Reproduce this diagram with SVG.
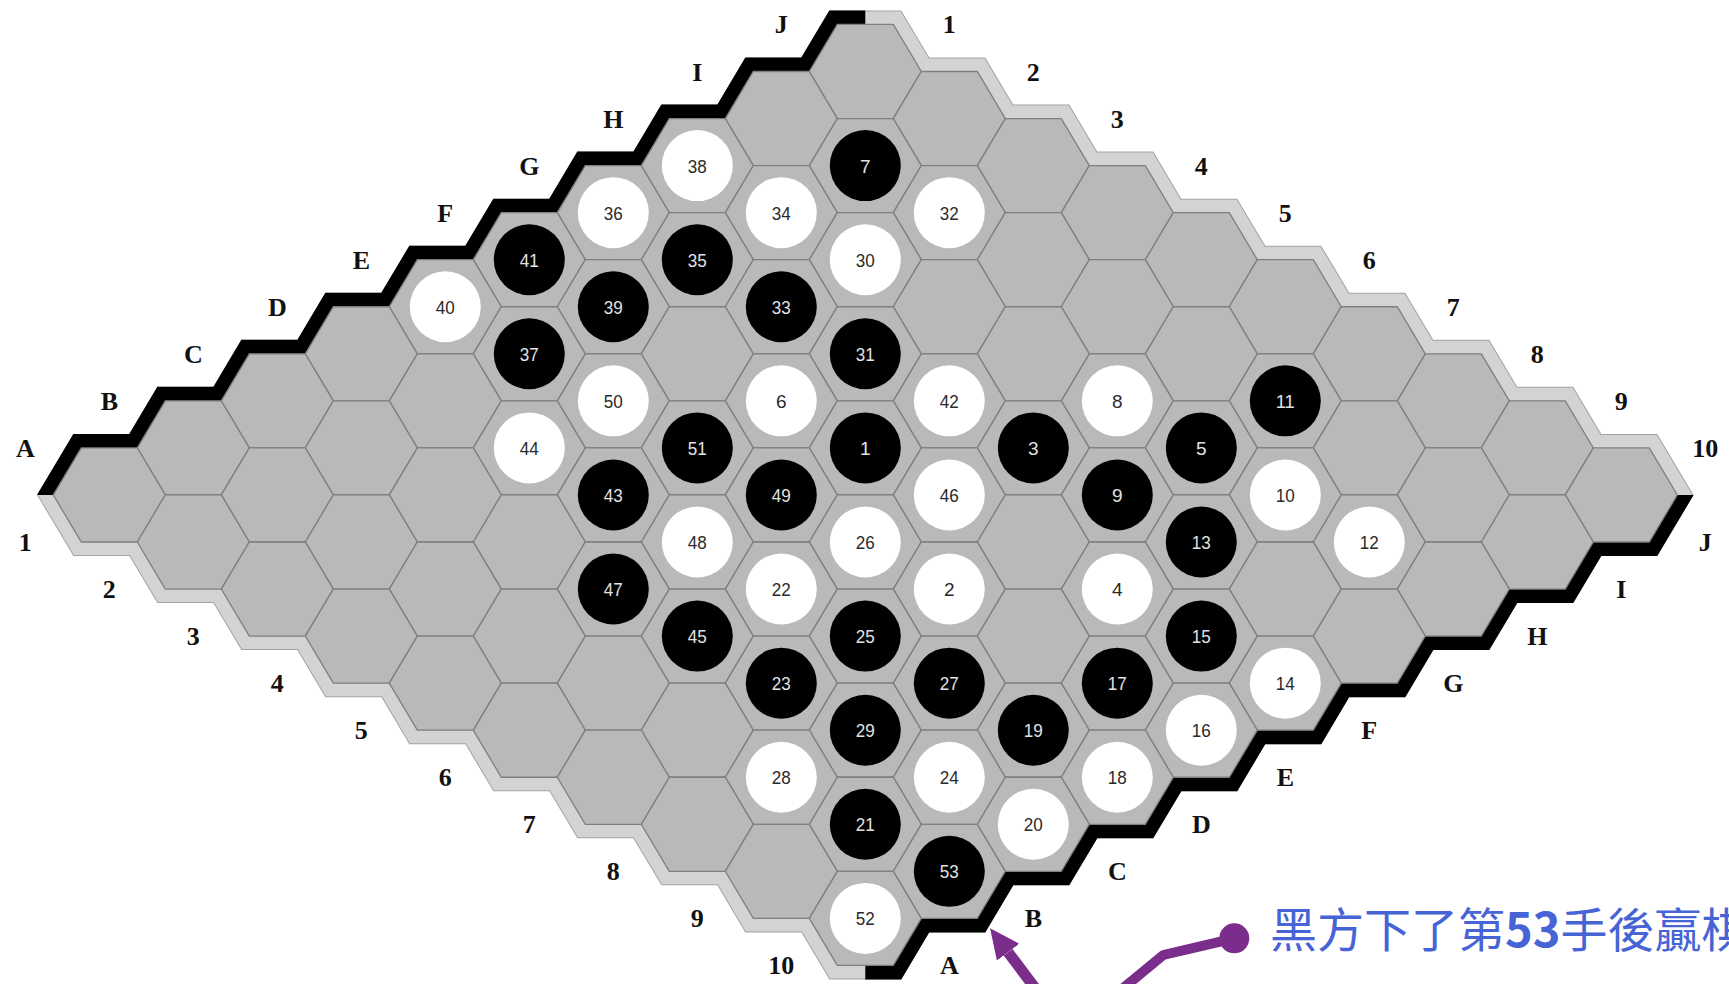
<svg xmlns="http://www.w3.org/2000/svg" width="1729" height="984" viewBox="0 0 1729 984">
<style>
.cell{fill:#b9b9b9;stroke:#7f7f7f;stroke-width:1.3}
.lbl text{font-family:"Liberation Serif","Times New Roman",serif;font-weight:bold;font-size:26px;fill:#111;text-anchor:middle}
.st text{font-family:"Liberation Sans",Arial,sans-serif;font-size:19px;text-anchor:middle}
.b circle{fill:#000}
.b text{fill:#e2e2e2}
.w circle{fill:#fff}
.w text{fill:#2a2a2a}
</style>
<defs>
<path id="hx" d="M-56,0 L-28,-47.05 L28,-47.05 L56,0 L28,47.05 L-28,47.05 Z"/>
<path id="outline" d="M53.3,494.95 L81.3,447.9 L137.3,447.9 L165.3,400.85 L221.3,400.85 L249.3,353.8 L305.3,353.8 L333.3,306.75 L389.3,306.75 L417.3,259.7 L473.3,259.7 L501.3,212.65 L557.3,212.65 L585.3,165.6 L641.3,165.6 L669.3,118.55 L725.3,118.55 L753.3,71.5 L809.3,71.5 L837.3,24.45 L893.3,24.45 L921.3,71.5 L977.3,71.5 L1005.3,118.55 L1061.3,118.55 L1089.3,165.6 L1145.3,165.6 L1173.3,212.65 L1229.3,212.65 L1257.3,259.7 L1313.3,259.7 L1341.3,306.75 L1397.3,306.75 L1425.3,353.8 L1481.3,353.8 L1509.3,400.85 L1565.3,400.85 L1593.3,447.9 L1649.3,447.9 L1677.3,494.95 L1649.3,542 L1593.3,542 L1565.3,589.05 L1509.3,589.05 L1481.3,636.1 L1425.3,636.1 L1397.3,683.15 L1341.3,683.15 L1313.3,730.2 L1257.3,730.2 L1229.3,777.25 L1173.3,777.25 L1145.3,824.3 L1089.3,824.3 L1061.3,871.35 L1005.3,871.35 L977.3,918.4 L921.3,918.4 L893.3,965.45 L837.3,965.45 L809.3,918.4 L753.3,918.4 L725.3,871.35 L669.3,871.35 L641.3,824.3 L585.3,824.3 L557.3,777.25 L501.3,777.25 L473.3,730.2 L417.3,730.2 L389.3,683.15 L333.3,683.15 L305.3,636.1 L249.3,636.1 L221.3,589.05 L165.3,589.05 L137.3,542 L81.3,542 Z"/>
<clipPath id="cTL"><rect x="0" y="0" width="865.3" height="494.95"/></clipPath>
<clipPath id="cBR"><rect x="865.3" y="494.95" width="864" height="490"/></clipPath>
<marker id="ah" markerUnits="userSpaceOnUse" markerWidth="30" markerHeight="28" refX="0" refY="14" orient="auto" viewBox="0 0 30 28"><path d="M0,0 L30,14 L0,28 Z" fill="#7b2d8b"/></marker>
</defs>

<g id="board-edge" fill="none" stroke-linejoin="miter">
<use href="#outline" stroke="#a3a3a3" stroke-width="28"/>
<use href="#outline" stroke="#d3d3d3" stroke-width="26"/>
<use href="#outline" stroke="#000" stroke-width="28" clip-path="url(#cTL)"/>
<use href="#outline" stroke="#000" stroke-width="28" clip-path="url(#cBR)"/>
</g>

<g id="cells" class="cell">
<use href="#hx" x="865.3" y="71.5"/>
<use href="#hx" x="781.3" y="118.55"/><use href="#hx" x="949.3" y="118.55"/>
<use href="#hx" x="697.3" y="165.6"/><use href="#hx" x="865.3" y="165.6"/><use href="#hx" x="1033.3" y="165.6"/>
<use href="#hx" x="613.3" y="212.65"/><use href="#hx" x="781.3" y="212.65"/><use href="#hx" x="949.3" y="212.65"/><use href="#hx" x="1117.3" y="212.65"/>
<use href="#hx" x="529.3" y="259.7"/><use href="#hx" x="697.3" y="259.7"/><use href="#hx" x="865.3" y="259.7"/><use href="#hx" x="1033.3" y="259.7"/><use href="#hx" x="1201.3" y="259.7"/>
<use href="#hx" x="445.3" y="306.75"/><use href="#hx" x="613.3" y="306.75"/><use href="#hx" x="781.3" y="306.75"/><use href="#hx" x="949.3" y="306.75"/><use href="#hx" x="1117.3" y="306.75"/><use href="#hx" x="1285.3" y="306.75"/>
<use href="#hx" x="361.3" y="353.8"/><use href="#hx" x="529.3" y="353.8"/><use href="#hx" x="697.3" y="353.8"/><use href="#hx" x="865.3" y="353.8"/><use href="#hx" x="1033.3" y="353.8"/><use href="#hx" x="1201.3" y="353.8"/><use href="#hx" x="1369.3" y="353.8"/>
<use href="#hx" x="277.3" y="400.85"/><use href="#hx" x="445.3" y="400.85"/><use href="#hx" x="613.3" y="400.85"/><use href="#hx" x="781.3" y="400.85"/><use href="#hx" x="949.3" y="400.85"/><use href="#hx" x="1117.3" y="400.85"/><use href="#hx" x="1285.3" y="400.85"/><use href="#hx" x="1453.3" y="400.85"/>
<use href="#hx" x="193.3" y="447.9"/><use href="#hx" x="361.3" y="447.9"/><use href="#hx" x="529.3" y="447.9"/><use href="#hx" x="697.3" y="447.9"/><use href="#hx" x="865.3" y="447.9"/><use href="#hx" x="1033.3" y="447.9"/><use href="#hx" x="1201.3" y="447.9"/><use href="#hx" x="1369.3" y="447.9"/><use href="#hx" x="1537.3" y="447.9"/>
<use href="#hx" x="109.3" y="494.95"/><use href="#hx" x="277.3" y="494.95"/><use href="#hx" x="445.3" y="494.95"/><use href="#hx" x="613.3" y="494.95"/><use href="#hx" x="781.3" y="494.95"/><use href="#hx" x="949.3" y="494.95"/><use href="#hx" x="1117.3" y="494.95"/><use href="#hx" x="1285.3" y="494.95"/><use href="#hx" x="1453.3" y="494.95"/><use href="#hx" x="1621.3" y="494.95"/>
<use href="#hx" x="193.3" y="542"/><use href="#hx" x="361.3" y="542"/><use href="#hx" x="529.3" y="542"/><use href="#hx" x="697.3" y="542"/><use href="#hx" x="865.3" y="542"/><use href="#hx" x="1033.3" y="542"/><use href="#hx" x="1201.3" y="542"/><use href="#hx" x="1369.3" y="542"/><use href="#hx" x="1537.3" y="542"/>
<use href="#hx" x="277.3" y="589.05"/><use href="#hx" x="445.3" y="589.05"/><use href="#hx" x="613.3" y="589.05"/><use href="#hx" x="781.3" y="589.05"/><use href="#hx" x="949.3" y="589.05"/><use href="#hx" x="1117.3" y="589.05"/><use href="#hx" x="1285.3" y="589.05"/><use href="#hx" x="1453.3" y="589.05"/>
<use href="#hx" x="361.3" y="636.1"/><use href="#hx" x="529.3" y="636.1"/><use href="#hx" x="697.3" y="636.1"/><use href="#hx" x="865.3" y="636.1"/><use href="#hx" x="1033.3" y="636.1"/><use href="#hx" x="1201.3" y="636.1"/><use href="#hx" x="1369.3" y="636.1"/>
<use href="#hx" x="445.3" y="683.15"/><use href="#hx" x="613.3" y="683.15"/><use href="#hx" x="781.3" y="683.15"/><use href="#hx" x="949.3" y="683.15"/><use href="#hx" x="1117.3" y="683.15"/><use href="#hx" x="1285.3" y="683.15"/>
<use href="#hx" x="529.3" y="730.2"/><use href="#hx" x="697.3" y="730.2"/><use href="#hx" x="865.3" y="730.2"/><use href="#hx" x="1033.3" y="730.2"/><use href="#hx" x="1201.3" y="730.2"/>
<use href="#hx" x="613.3" y="777.25"/><use href="#hx" x="781.3" y="777.25"/><use href="#hx" x="949.3" y="777.25"/><use href="#hx" x="1117.3" y="777.25"/>
<use href="#hx" x="697.3" y="824.3"/><use href="#hx" x="865.3" y="824.3"/><use href="#hx" x="1033.3" y="824.3"/>
<use href="#hx" x="781.3" y="871.35"/><use href="#hx" x="949.3" y="871.35"/>
<use href="#hx" x="865.3" y="918.4"/>
</g>

<g id="labels" class="lbl">
<text x="25.3" y="456.9">A</text><text x="109.3" y="409.85">B</text><text x="193.3" y="362.8">C</text><text x="277.3" y="315.75">D</text><text x="361.3" y="268.7">E</text><text x="445.3" y="221.65">F</text><text x="529.3" y="174.6">G</text><text x="613.3" y="127.55">H</text><text x="697.3" y="80.5">I</text><text x="781.3" y="33.45">J</text>
<text x="949.3" y="33.45">1</text><text x="1033.3" y="80.5">2</text><text x="1117.3" y="127.55">3</text><text x="1201.3" y="174.6">4</text><text x="1285.3" y="221.65">5</text><text x="1369.3" y="268.7">6</text><text x="1453.3" y="315.75">7</text><text x="1537.3" y="362.8">8</text><text x="1621.3" y="409.85">9</text><text x="1705.3" y="456.9">10</text>
<text x="949.3" y="974.45">A</text><text x="1033.3" y="927.4">B</text><text x="1117.3" y="880.35">C</text><text x="1201.3" y="833.3">D</text><text x="1285.3" y="786.25">E</text><text x="1369.3" y="739.2">F</text><text x="1453.3" y="692.15">G</text><text x="1537.3" y="645.1">H</text><text x="1621.3" y="598.05">I</text><text x="1705.3" y="551">J</text>
<text x="25.3" y="551">1</text><text x="109.3" y="598.05">2</text><text x="193.3" y="645.1">3</text><text x="277.3" y="692.15">4</text><text x="361.3" y="739.2">5</text><text x="445.3" y="786.25">6</text><text x="529.3" y="833.3">7</text><text x="613.3" y="880.35">8</text><text x="697.3" y="927.4">9</text><text x="781.3" y="974.45">10</text>
</g>

<g id="stones">
<g id="s1" class="st b" transform="translate(865.3,447.9)"><circle r="35.5"/><text y="7">1</text></g>
<g id="s2" class="st w" transform="translate(949.3,589.05)"><circle r="35.5"/><text y="7">2</text></g>
<g id="s3" class="st b" transform="translate(1033.3,447.9)"><circle r="35.5"/><text y="7">3</text></g>
<g id="s4" class="st w" transform="translate(1117.3,589.05)"><circle r="35.5"/><text y="7">4</text></g>
<g id="s5" class="st b" transform="translate(1201.3,447.9)"><circle r="35.5"/><text y="7">5</text></g>
<g id="s6" class="st w" transform="translate(781.3,400.85)"><circle r="35.5"/><text y="7">6</text></g>
<g id="s7" class="st b" transform="translate(865.3,165.6)"><circle r="35.5"/><text y="7">7</text></g>
<g id="s8" class="st w" transform="translate(1117.3,400.85)"><circle r="35.5"/><text y="7">8</text></g>
<g id="s9" class="st b" transform="translate(1117.3,494.95)"><circle r="35.5"/><text y="7">9</text></g>
<g id="s10" class="st w" transform="translate(1285.3,494.95)"><circle r="35.5"/><text y="7" textLength="19" lengthAdjust="spacingAndGlyphs">10</text></g>
<g id="s11" class="st b" transform="translate(1285.3,400.85)"><circle r="35.5"/><text y="7" textLength="19" lengthAdjust="spacingAndGlyphs">11</text></g>
<g id="s12" class="st w" transform="translate(1369.3,542)"><circle r="35.5"/><text y="7" textLength="19" lengthAdjust="spacingAndGlyphs">12</text></g>
<g id="s13" class="st b" transform="translate(1201.3,542)"><circle r="35.5"/><text y="7" textLength="19" lengthAdjust="spacingAndGlyphs">13</text></g>
<g id="s14" class="st w" transform="translate(1285.3,683.15)"><circle r="35.5"/><text y="7" textLength="19" lengthAdjust="spacingAndGlyphs">14</text></g>
<g id="s15" class="st b" transform="translate(1201.3,636.1)"><circle r="35.5"/><text y="7" textLength="19" lengthAdjust="spacingAndGlyphs">15</text></g>
<g id="s16" class="st w" transform="translate(1201.3,730.2)"><circle r="35.5"/><text y="7" textLength="19" lengthAdjust="spacingAndGlyphs">16</text></g>
<g id="s17" class="st b" transform="translate(1117.3,683.15)"><circle r="35.5"/><text y="7" textLength="19" lengthAdjust="spacingAndGlyphs">17</text></g>
<g id="s18" class="st w" transform="translate(1117.3,777.25)"><circle r="35.5"/><text y="7" textLength="19" lengthAdjust="spacingAndGlyphs">18</text></g>
<g id="s19" class="st b" transform="translate(1033.3,730.2)"><circle r="35.5"/><text y="7" textLength="19" lengthAdjust="spacingAndGlyphs">19</text></g>
<g id="s20" class="st w" transform="translate(1033.3,824.3)"><circle r="35.5"/><text y="7" textLength="19" lengthAdjust="spacingAndGlyphs">20</text></g>
<g id="s21" class="st b" transform="translate(865.3,824.3)"><circle r="35.5"/><text y="7" textLength="19" lengthAdjust="spacingAndGlyphs">21</text></g>
<g id="s22" class="st w" transform="translate(781.3,589.05)"><circle r="35.5"/><text y="7" textLength="19" lengthAdjust="spacingAndGlyphs">22</text></g>
<g id="s23" class="st b" transform="translate(781.3,683.15)"><circle r="35.5"/><text y="7" textLength="19" lengthAdjust="spacingAndGlyphs">23</text></g>
<g id="s24" class="st w" transform="translate(949.3,777.25)"><circle r="35.5"/><text y="7" textLength="19" lengthAdjust="spacingAndGlyphs">24</text></g>
<g id="s25" class="st b" transform="translate(865.3,636.1)"><circle r="35.5"/><text y="7" textLength="19" lengthAdjust="spacingAndGlyphs">25</text></g>
<g id="s26" class="st w" transform="translate(865.3,542)"><circle r="35.5"/><text y="7" textLength="19" lengthAdjust="spacingAndGlyphs">26</text></g>
<g id="s27" class="st b" transform="translate(949.3,683.15)"><circle r="35.5"/><text y="7" textLength="19" lengthAdjust="spacingAndGlyphs">27</text></g>
<g id="s28" class="st w" transform="translate(781.3,777.25)"><circle r="35.5"/><text y="7" textLength="19" lengthAdjust="spacingAndGlyphs">28</text></g>
<g id="s29" class="st b" transform="translate(865.3,730.2)"><circle r="35.5"/><text y="7" textLength="19" lengthAdjust="spacingAndGlyphs">29</text></g>
<g id="s30" class="st w" transform="translate(865.3,259.7)"><circle r="35.5"/><text y="7" textLength="19" lengthAdjust="spacingAndGlyphs">30</text></g>
<g id="s31" class="st b" transform="translate(865.3,353.8)"><circle r="35.5"/><text y="7" textLength="19" lengthAdjust="spacingAndGlyphs">31</text></g>
<g id="s32" class="st w" transform="translate(949.3,212.65)"><circle r="35.5"/><text y="7" textLength="19" lengthAdjust="spacingAndGlyphs">32</text></g>
<g id="s33" class="st b" transform="translate(781.3,306.75)"><circle r="35.5"/><text y="7" textLength="19" lengthAdjust="spacingAndGlyphs">33</text></g>
<g id="s34" class="st w" transform="translate(781.3,212.65)"><circle r="35.5"/><text y="7" textLength="19" lengthAdjust="spacingAndGlyphs">34</text></g>
<g id="s35" class="st b" transform="translate(697.3,259.7)"><circle r="35.5"/><text y="7" textLength="19" lengthAdjust="spacingAndGlyphs">35</text></g>
<g id="s36" class="st w" transform="translate(613.3,212.65)"><circle r="35.5"/><text y="7" textLength="19" lengthAdjust="spacingAndGlyphs">36</text></g>
<g id="s37" class="st b" transform="translate(529.3,353.8)"><circle r="35.5"/><text y="7" textLength="19" lengthAdjust="spacingAndGlyphs">37</text></g>
<g id="s38" class="st w" transform="translate(697.3,165.6)"><circle r="35.5"/><text y="7" textLength="19" lengthAdjust="spacingAndGlyphs">38</text></g>
<g id="s39" class="st b" transform="translate(613.3,306.75)"><circle r="35.5"/><text y="7" textLength="19" lengthAdjust="spacingAndGlyphs">39</text></g>
<g id="s40" class="st w" transform="translate(445.3,306.75)"><circle r="35.5"/><text y="7" textLength="19" lengthAdjust="spacingAndGlyphs">40</text></g>
<g id="s41" class="st b" transform="translate(529.3,259.7)"><circle r="35.5"/><text y="7" textLength="19" lengthAdjust="spacingAndGlyphs">41</text></g>
<g id="s42" class="st w" transform="translate(949.3,400.85)"><circle r="35.5"/><text y="7" textLength="19" lengthAdjust="spacingAndGlyphs">42</text></g>
<g id="s43" class="st b" transform="translate(613.3,494.95)"><circle r="35.5"/><text y="7" textLength="19" lengthAdjust="spacingAndGlyphs">43</text></g>
<g id="s44" class="st w" transform="translate(529.3,447.9)"><circle r="35.5"/><text y="7" textLength="19" lengthAdjust="spacingAndGlyphs">44</text></g>
<g id="s45" class="st b" transform="translate(697.3,636.1)"><circle r="35.5"/><text y="7" textLength="19" lengthAdjust="spacingAndGlyphs">45</text></g>
<g id="s46" class="st w" transform="translate(949.3,494.95)"><circle r="35.5"/><text y="7" textLength="19" lengthAdjust="spacingAndGlyphs">46</text></g>
<g id="s47" class="st b" transform="translate(613.3,589.05)"><circle r="35.5"/><text y="7" textLength="19" lengthAdjust="spacingAndGlyphs">47</text></g>
<g id="s48" class="st w" transform="translate(697.3,542)"><circle r="35.5"/><text y="7" textLength="19" lengthAdjust="spacingAndGlyphs">48</text></g>
<g id="s49" class="st b" transform="translate(781.3,494.95)"><circle r="35.5"/><text y="7" textLength="19" lengthAdjust="spacingAndGlyphs">49</text></g>
<g id="s50" class="st w" transform="translate(613.3,400.85)"><circle r="35.5"/><text y="7" textLength="19" lengthAdjust="spacingAndGlyphs">50</text></g>
<g id="s51" class="st b" transform="translate(697.3,447.9)"><circle r="35.5"/><text y="7" textLength="19" lengthAdjust="spacingAndGlyphs">51</text></g>
<g id="s52" class="st w" transform="translate(865.3,918.4)"><circle r="35.5"/><text y="7" textLength="19" lengthAdjust="spacingAndGlyphs">52</text></g>
<g id="s53" class="st b" transform="translate(949.3,871.35)"><circle r="35.5"/><text y="7" textLength="19" lengthAdjust="spacingAndGlyphs">53</text></g>
</g>

<g id="connectors" fill="none" stroke="#7b2d8b">
<line x1="1041" y1="996" x2="1008.1" y2="952.2" stroke-width="11" marker-end="url(#ah)"/>
<polyline points="1234.3,938.3 1163.3,955 1110,999" stroke-width="10" stroke-linejoin="round"/>
</g>
<g id="callout">
<circle cx="1234.3" cy="938.3" r="15" fill="#7b2d8b"/>
<text x="1270" y="947" font-family="'Noto Sans CJK TC','Noto Sans CJK SC',sans-serif" font-size="47" fill="#4664d6">黑方下了第<tspan font-weight="bold">53</tspan>手後贏棋</text>
</g>
</svg>
